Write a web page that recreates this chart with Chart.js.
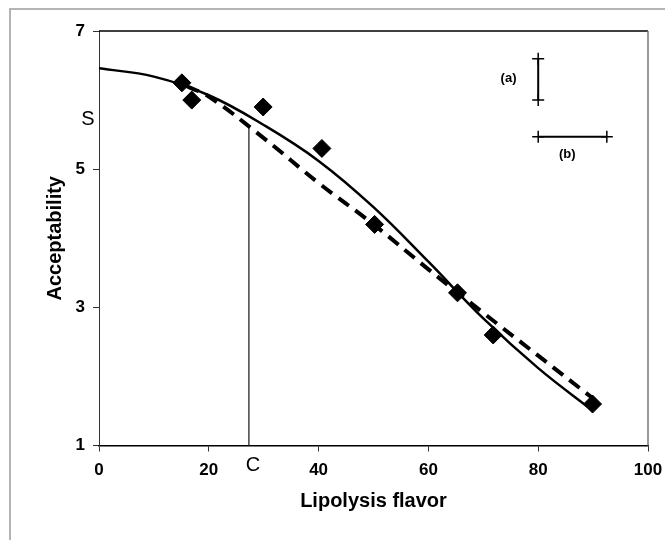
<!DOCTYPE html>
<html>
<head>
<meta charset="utf-8">
<title>Acceptability vs lipolysis flavor</title>
<script src="https://cdn.jsdelivr.net/npm/chart.js@4.4.1/dist/chart.umd.min.js"></script>
<style>
  html, body { margin: 0; padding: 0; background: #fff; }
</style>
</head>
<body>
<canvas id="chart" width="665" height="540"></canvas>
<script>
// observed panel scores (diamonds)
const flavorObs = [15.1, 16.9, 29.9, 40.6, 50.2, 65.3, 71.8, 89.9];
const acceptObs = [6.25, 6.0, 5.9, 5.3, 4.2, 3.21, 2.6, 1.6];

// solid fitted curve
const solidX = [0, 10, 20, 30, 40, 50, 60, 70, 80, 90];
const solidY = [6.46, 6.34, 6.07, 5.64, 5.12, 4.45, 3.66, 2.84, 2.12, 1.5];

// dashed fitted curve
const dashX = [16, 20, 30, 40, 50, 60, 70, 80, 90];
const dashY = [6.2, 6.05, 5.45, 4.8, 4.2, 3.55, 2.92, 2.3, 1.68];

// cut-off C and the acceptability S it gives
const cutX = [27.3, 27.3];
const cutY = [1, 5.64];
const sValue = 5.74;

// error bar keys (a) and (b)
const barAX = [80, 80];
const barAY = [6.0, 6.6];
const barBX = [80, 92.5];
const barBY = [5.47, 5.47];

const xTicks = [0, 20, 40, 60, 80, 100];
const yTicks = [1, 3, 5, 7];

const pts = (xs, ys) => xs.map((x, i) => ({ x: x, y: ys[i] }));

Chart.defaults.font.family = '"Liberation Sans", Arial, sans-serif';
Chart.defaults.color = '#000';

// grey page frame, plot box and the loose text labels
const extras = {
    id: 'extras',
    beforeDraw(chart) {
        const ctx = chart.ctx;
        ctx.save();
        ctx.strokeStyle = '#b4b4b4';
        ctx.lineWidth = 2;
        ctx.beginPath();
        ctx.moveTo(10, 540);
        ctx.lineTo(10, 9);
        ctx.lineTo(665, 9);
        ctx.stroke();
        ctx.restore();
    },
    afterDraw(chart) {
        const { ctx, chartArea: a, scales: { x, y } } = chart;
        ctx.save();
        ctx.lineWidth = 1.5;
        ctx.strokeStyle = '#000';
        ctx.beginPath();
        ctx.moveTo(a.left, a.top);
        ctx.lineTo(a.right, a.top);
        ctx.stroke();
        ctx.strokeStyle = '#777';
        ctx.beginPath();
        ctx.moveTo(a.right, a.top);
        ctx.lineTo(a.right, a.bottom);
        ctx.stroke();

        ctx.fillStyle = '#000';
        ctx.textAlign = 'center';
        ctx.textBaseline = 'middle';
        ctx.font = '20px "Liberation Sans", Arial, sans-serif';
        ctx.fillText('S', a.left - 11, y.getPixelForValue(sValue) + 1);
        ctx.fillText('C', x.getPixelForValue(cutX[0]) + 4, a.bottom + 20);

        ctx.font = 'bold 13px "Liberation Sans", Arial, sans-serif';
        ctx.fillText('(a)', x.getPixelForValue(74.6), y.getPixelForValue(6.31));
        ctx.fillText('(b)', x.getPixelForValue(85.3), y.getPixelForValue(5.21));
        ctx.restore();
    }
};

new Chart(document.getElementById('chart'), {
    type: 'scatter',
    data: {
        datasets: [
            {
                label: 'Observed',
                data: pts(flavorObs, acceptObs),
                pointStyle: 'rectRot',
                pointRadius: 9,
                backgroundColor: '#000',
                borderColor: '#000',
                borderWidth: 1,
                showLine: false
            },
            {
                label: 'Model 1',
                data: pts(solidX, solidY),
                showLine: true,
                borderColor: '#000',
                borderWidth: 2.5,
                pointRadius: 0,
                tension: 0.4
            },
            {
                label: 'Model 2',
                data: pts(dashX, dashY),
                showLine: true,
                borderColor: '#000',
                borderWidth: 4,
                borderDash: [13, 8],
                pointRadius: 0,
                tension: 0.4
            },
            {
                label: 'Cut-off',
                data: pts(cutX, cutY),
                showLine: true,
                borderColor: '#444',
                borderWidth: 1.5,
                pointRadius: 0
            },
            {
                label: '(a)',
                data: pts(barAX, barAY),
                showLine: true,
                borderColor: '#000',
                borderWidth: 2,
                pointStyle: 'cross',
                pointRadius: 6,
                pointBorderWidth: 1.5
            },
            {
                label: '(b)',
                data: pts(barBX, barBY),
                showLine: true,
                borderColor: '#000',
                borderWidth: 2,
                pointStyle: 'cross',
                pointRadius: 6,
                pointBorderWidth: 1.5
            }
        ]
    },
    options: {
        responsive: false,
        animation: false,
        layout: { padding: { top: 31, right: 17, left: 0, bottom: 0 } },
        plugins: {
            legend: { display: false },
            tooltip: { enabled: false }
        },
        scales: {
            x: {
                type: 'linear',
                min: 0,
                max: 100,
                afterBuildTicks: s => { s.ticks = xTicks.map(v => ({ value: v })); },
                afterFit: s => { s.height = 94.5; s.paddingLeft = 0; s.paddingRight = 0; },
                grid: { drawOnChartArea: false, tickLength: 6, color: '#333' },
                border: { color: '#000', width: 1.5 },
                ticks: { font: { size: 17, weight: 'bold' }, padding: 9, maxRotation: 0 },
                title: {
                    display: true,
                    text: 'Lipolysis flavor',
                    font: { size: 20, weight: 'bold' },
                    padding: { top: 0, bottom: 27 }
                }
            },
            y: {
                type: 'linear',
                min: 1,
                max: 7,
                afterBuildTicks: s => { s.ticks = yTicks.map(v => ({ value: v })); },
                afterFit: s => { s.width = 99; s.paddingTop = 0; s.paddingBottom = 0; },
                grid: { drawOnChartArea: false, tickLength: 6, color: '#333' },
                border: { color: '#333', width: 1 },
                ticks: { font: { size: 17, weight: 'bold' }, padding: 8 },
                title: {
                    display: true,
                    text: 'Acceptability',
                    font: { size: 20, weight: 'bold' },
                    padding: { top: 43, bottom: 0 }
                }
            }
        }
    },
    plugins: [extras]
});
</script>
</body>
</html>
